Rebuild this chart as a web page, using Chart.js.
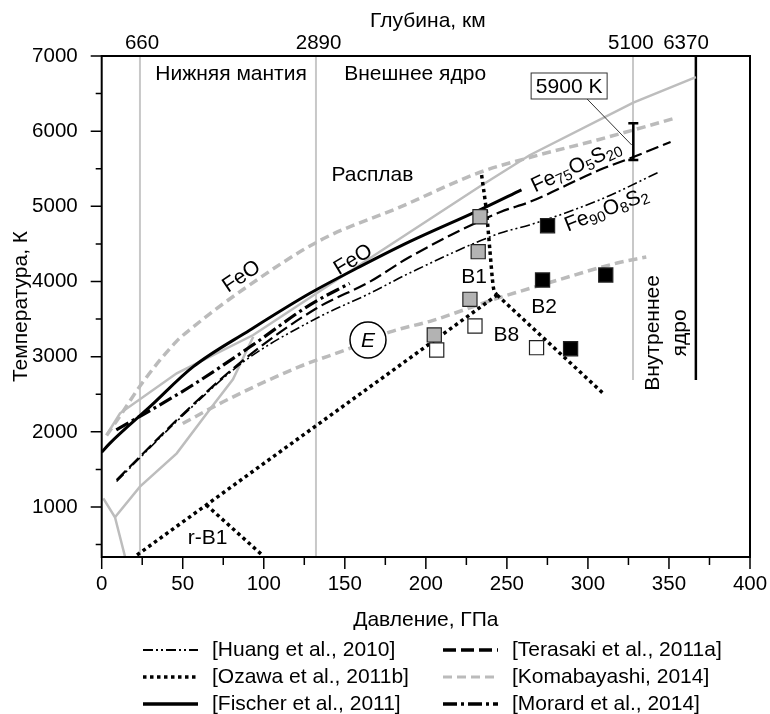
<!DOCTYPE html>
<html>
<head>
<meta charset="utf-8">
<script src="https://cdn.jsdelivr.net/npm/chart.js@4.4.1/dist/chart.umd.min.js"></script>
<style>
  html, body { margin: 0; padding: 0; background: #fff; }
</style>
</head>
<body>
<canvas id="c" width="770" height="714"></canvas>
<script>
// Fe-O-S melting / phase diagram, pressure (GPa) vs temperature (K)

const xTicks = [0, 25, 50, 75, 100, 125, 150, 175, 200, 225, 250, 275, 300, 325, 350, 375, 400];
const yTicks = [500, 1000, 1500, 2000, 2500, 3000, 3500, 4000, 4500, 5000, 5500, 6000, 6500, 7000];
const depthTickP = [24.9, 133.8, 326.5, 360.5];
const depthLabels = ['660', '2890', '5100', '6370'];

// region boundaries (660, 2890, 5100 km — gray; 6370 km — black)
const boundaryP = [23.6, 132.2, 327.8, 366.6];
const boundaryLowT = [335, 335, 2690, 2690];

// [Fischer et al., 2011]
const fischerP = [0, 5, 29.8, 56.5, 91.5, 128.5, 159.3, 190, 233, 259];
const fischerT = [1730, 1847, 2335, 2867, 3355, 3843, 4197, 4530, 4950, 5220];

// [Morard et al., 2014]
const morardP = [9, 54.5, 93.5, 128.5, 153];
const morardT = [2025, 2600, 3160, 3690, 3976];

// [Terasaki et al., 2011a] Fe75O5S20
const terasakiP = [9.2, 25.7, 46.3, 87.4, 132.6, 165.5, 190, 246, 264, 307, 328, 351];
const terasakiT = [1360, 1714, 2158, 2955, 3644, 3998, 4326, 4925, 5058, 5483, 5656, 5856];

// [Huang et al., 2010] Fe90O8S2
const huangP = [9.2, 25.7, 46.3, 87.4, 132.6, 165.5, 190, 246, 264, 307, 344];
const huangT = [1340, 1700, 2140, 2930, 3511, 3843, 4113, 4645, 4752, 5084, 5457];

// [Komabayashi, 2014] FeO melting and eutectic
const komaFeoP = [3, 11, 25, 46, 55, 87, 135, 184, 233, 264, 307, 355];
const komaFeoT = [1950, 2200, 2650, 3200, 3370, 3890, 4550, 4990, 5450, 5650, 5890, 6180];
const komaEutP = [50, 75, 122, 153, 178, 204, 241, 280, 318, 336];
const komaEutT = [2110, 2400, 2867, 3110, 3330, 3480, 3754, 4010, 4246, 4326];

// gray solid curves (Fe phase diagram)
const grayAP = [1, 8.2, 14.4];
const grayAT = [1116, 863, 339];
const grayBP = [8.2, 23.6, 46.3, 66.8, 81, 93.5];
const grayBT = [863, 1271, 1714, 2300, 2700, 3266];
const grayCP = [3, 11.3, 46.3, 93.5, 132.6, 164, 233, 264, 328, 366.6];
const grayCT = [1958, 2247, 2779, 3288, 3843, 4290, 5260, 5680, 6380, 6720];

// [Ozawa et al., 2011b] FeO phase boundaries
const ozB1B8P = [21.8, 244];
const ozB1B8T = [362, 3820];
const ozMeltP = [234.4, 237.5, 239.5, 241.6, 243.7];
const ozMeltT = [5417, 4907, 4419, 3931, 3820];
const ozB8B2P = [244, 309];
const ozB8B2T = [3820, 2520];
const ozRB1P = [64.5, 99.6];
const ozRB1T = [1029, 350];

// experimental points
const graySqP = [233.4, 232.3, 227.2, 205.2];
const graySqT = [4862, 4397, 3763, 3289];
const whiteSqP = [206.7, 230.3, 268.3];
const whiteSqT = [3089, 3408, 3120];
const blackSqP = [272, 311, 289.3, 275.1];
const blackSqT = [4020, 4087, 3106, 4742];

// eutectic point E and 5900 K estimate at ICB
const eutP = [164.3];
const eutT = [3222];
const icbP = [328, 328];
const icbT = [5617, 6105];

const FONT = '"Liberation Sans", Arial, Helvetica, sans-serif';
const FS = 21;
const TICK_FS = 20.5;
const GRAY_LINE = '#bdbdbd';
const GRAY_DASH = '#bbbbbb';

function pts(px, ty) {
    return px.map(function (p, i) { return { x: p, y: ty[i] }; });
}

function lineDs(label, px, ty, color, width, dash, order, extra) {
    return Object.assign({
        label: label,
        data: pts(px, ty),
        showLine: true,
        borderColor: color,
        borderWidth: width,
        borderDash: dash || [],
        borderCapStyle: 'butt',
        pointRadius: 0,
        pointHoverRadius: 0,
        fill: false,
        tension: 0,
        order: order
    }, extra || {});
}

function sqDs(label, px, ty, fill) {
    return {
        label: label,
        data: pts(px, ty),
        showLine: false,
        pointStyle: 'rect',
        pointRadius: 10,
        pointHoverRadius: 10,
        backgroundColor: fill,
        borderColor: '#222',
        borderWidth: 1.2,
        order: 0
    };
}

const DASH = {
    huang: [10, 3, 2, 3, 2, 3],
    terasaki: [13, 5],
    ozawa: [3.5, 3.5],
    koma: [9, 5],
    morard: [14, 4, 3, 4]
};

const datasets = [];
boundaryP.forEach(function (p, i) {
    datasets.push(lineDs('boundary', [p, p], [7000, boundaryLowT[i]],
        i === 3 ? '#000' : '#c8c8c8', i === 3 ? 2.5 : 2, [], 20));
});
datasets.push(lineDs('grayA', grayAP, grayAT, GRAY_LINE, 2.5, [], 15));
datasets.push(lineDs('grayB', grayBP, grayBT, GRAY_LINE, 2.5, [], 15));
datasets.push(lineDs('grayC', grayCP, grayCT, GRAY_LINE, 2.5, [], 15));
datasets.push(lineDs('koma1', komaFeoP, komaFeoT, GRAY_DASH, 3.5, DASH.koma, 14, { cubicInterpolationMode: 'monotone' }));
datasets.push(lineDs('koma2', komaEutP, komaEutT, GRAY_DASH, 3.5, DASH.koma, 14, { cubicInterpolationMode: 'monotone' }));
datasets.push(lineDs('ozawa1', ozB1B8P, ozB1B8T, '#000', 3.5, DASH.ozawa, 8));
datasets.push(lineDs('ozawa2', ozMeltP, ozMeltT, '#000', 3.5, DASH.ozawa, 8, { cubicInterpolationMode: 'monotone' }));
datasets.push(lineDs('ozawa3', ozB8B2P, ozB8B2T, '#000', 3.5, DASH.ozawa, 8));
datasets.push(lineDs('ozawa4', ozRB1P, ozRB1T, '#000', 3.5, DASH.ozawa, 8));
datasets.push(lineDs('huang', huangP, huangT, '#000', 1.6, DASH.huang, 6, { cubicInterpolationMode: 'monotone' }));
datasets.push(lineDs('terasaki', terasakiP, terasakiT, '#000', 2.2, DASH.terasaki, 6, { cubicInterpolationMode: 'monotone' }));
datasets.push(lineDs('morard', morardP, morardT, '#000', 3.2, DASH.morard, 5, { cubicInterpolationMode: 'monotone' }));
datasets.push(lineDs('fischer', fischerP, fischerT, '#000', 3, [], 4, { cubicInterpolationMode: 'monotone' }));
datasets.push(lineDs('icb', icbP, icbT, '#000', 2.5, [], 2, {
    pointStyle: 'line', pointRadius: 5, pointBorderWidth: 2.5, pointBorderColor: '#000'
}));
datasets.push({
    label: 'E', data: pts(eutP, eutT), showLine: false, pointStyle: 'circle',
    pointRadius: 18, pointHoverRadius: 18, backgroundColor: '#fff', borderColor: '#000',
    borderWidth: 1.5, order: 1
});
datasets.push(sqDs('graySq', graySqP, graySqT, '#b3b3b3'));
datasets.push(sqDs('whiteSq', whiteSqP, whiteSqT, '#fff'));
datasets.push(sqDs('blackSq', blackSqP, blackSqT, '#000'));

// text annotations, in data coordinates
const notes = [
    { text: 'Нижняя мантия', p: 79.8, t: 6754 },
    { text: 'Внешнее ядро', p: 193.4, t: 6754 },
    { text: 'Расплав', p: 167, t: 5417 },
    { text: 'B1', p: 229.7, t: 4053 },
    { text: 'B2', p: 272.9, t: 3654 },
    { text: 'B8', p: 249.7, t: 3282 },
    { text: 'r-B1', p: 65.3, t: 581 },
    { text: 'FeO', p: 86.3, t: 4064, rot: -34 },
    { text: 'FeO', p: 155.2, t: 4286, rot: -31 }
];
const formulas = [
    { parts: [['Fe', 0], ['75', 1], ['O', 0], ['5', 1], ['S', 0], ['20', 1]], p: 292.9, t: 5527, rot: -25 },
    { parts: [['Fe', 0], ['90', 1], ['O', 0], ['8', 1], ['S', 0], ['2', 1]], p: 311.5, t: 4951, rot: -21.6 }
];

const legendItems = [
    ['[Huang et al., 2010]', 'huang'],
    ['[Ozawa et al., 2011b]', 'ozawa1'],
    ['[Fischer et al., 2011]', 'fischer'],
    ['[Terasaki et al., 2011a]', 'terasaki'],
    ['[Komabayashi, 2014]', 'koma1'],
    ['[Morard et al., 2014]', 'morard']
];

const decor = {
    id: 'decor',
    afterDatasetsDraw: function (chart) {
        const ctx = chart.ctx;
        const a = chart.chartArea;
        const xs = chart.scales.x;
        const ys = chart.scales.y;
        const X = function (p) { return xs.getPixelForValue(p); };
        const Y = function (t) { return ys.getPixelForValue(t); };

        ctx.save();
        ctx.strokeStyle = '#000';
        ctx.fillStyle = '#000';

        // frame
        ctx.lineWidth = 2;
        ctx.setLineDash([]);
        ctx.strokeRect(a.left, a.top, a.right - a.left, a.bottom - a.top);

        // tick marks
        ctx.lineWidth = 1.5;
        ctx.beginPath();
        xTicks.forEach(function (v) {
            const len = v % 50 === 0 ? 12 : 8;
            ctx.moveTo(X(v), a.bottom);
            ctx.lineTo(X(v), a.bottom + len);
        });
        yTicks.forEach(function (v) {
            const len = v % 1000 === 0 ? 11 : 6;
            ctx.moveTo(a.left - len, Y(v));
            ctx.lineTo(a.left, Y(v));
        });
        ctx.stroke();

        // titles
        ctx.font = FS + 'px ' + FONT;
        ctx.textAlign = 'center';
        ctx.textBaseline = 'middle';
        ctx.fillText('Глубина, км', (a.left + a.right) / 2 + 2, 21);
        ctx.fillText('Давление, ГПа', (a.left + a.right) / 2, 620);
        ctx.save();
        ctx.translate(21, (a.top + a.bottom) / 2);
        ctx.rotate(-Math.PI / 2);
        ctx.fillText('Температура, К', 0, 0);
        ctx.restore();

        // plain labels
        notes.forEach(function (n) {
            ctx.save();
            ctx.translate(X(n.p), Y(n.t));
            if (n.rot) ctx.rotate(n.rot * Math.PI / 180);
            ctx.fillText(n.text, 0, 0);
            ctx.restore();
        });

        // inner core label
        ctx.save();
        ctx.translate(X(348.5), Y(3316));
        ctx.rotate(-Math.PI / 2);
        ctx.fillText('Внутреннее', 0, -13.5);
        ctx.fillText('ядро', 0, 13.5);
        ctx.restore();

        // formulas with subscripts
        formulas.forEach(function (f) {
            let w = 0;
            f.parts.forEach(function (pt) {
                ctx.font = (pt[1] ? '15px ' : FS + 'px ') + FONT;
                w += ctx.measureText(pt[0]).width;
            });
            ctx.save();
            ctx.translate(X(f.p), Y(f.t));
            ctx.rotate(f.rot * Math.PI / 180);
            ctx.textAlign = 'left';
            let x = -w / 2;
            f.parts.forEach(function (pt) {
                ctx.font = (pt[1] ? '15px ' : FS + 'px ') + FONT;
                ctx.fillText(pt[0], x, pt[1] ? 5 : 0);
                x += ctx.measureText(pt[0]).width;
            });
            ctx.restore();
        });

        // E inside circle
        ctx.font = 'italic ' + FS + 'px ' + FONT;
        ctx.textAlign = 'center';
        ctx.fillText('E', X(eutP[0]), Y(eutT[0]) + 1);

        // 5900 K box and leader
        const bx = X(288.4), by = Y(6601);
        const bw = 76, bh = 26;
        ctx.lineWidth = 1;
        ctx.strokeStyle = '#333';
        ctx.beginPath();
        ctx.moveTo(bx + bw / 2 - 20, by + bh / 2);
        ctx.lineTo(X(327), Y(5816));
        ctx.stroke();
        ctx.fillStyle = '#fff';
        ctx.fillRect(bx - bw / 2, by - bh / 2, bw, bh);
        ctx.strokeRect(bx - bw / 2, by - bh / 2, bw, bh);
        ctx.fillStyle = '#000';
        ctx.font = FS + 'px ' + FONT;
        ctx.fillText('5900 K', bx, by + 1);

        // legend
        ctx.font = FS + 'px ' + FONT;
        ctx.textAlign = 'left';
        legendItems.forEach(function (it, i) {
            const col = Math.floor(i / 3);
            const row = i % 3;
            const x0 = col === 0 ? 143 : 443;
            const y0 = 650 + row * 27;
            const ds = chart.data.datasets.find(function (d) { return d.label === it[1]; });
            ctx.save();
            ctx.strokeStyle = ds.borderColor;
            ctx.lineWidth = it[1] === 'huang' ? 2 : (it[1] === 'koma1' ? 3 : 3.5);
            ctx.setLineDash(ds.borderDash);
            ctx.beginPath();
            ctx.moveTo(x0, y0);
            ctx.lineTo(x0 + 55, y0);
            ctx.stroke();
            ctx.restore();
            ctx.fillText(it[0], x0 + 69, y0);
        });

        ctx.restore();
    }
};

function noPadX(s, h) {
    s.height = h;
    s.paddingLeft = 0;
    s.paddingRight = 0;
}

new Chart(document.getElementById('c'), {
    type: 'scatter',
    data: { datasets: datasets },
    plugins: [decor],
    options: {
        responsive: false,
        animation: false,
        layout: { padding: { left: 0, right: 20, top: 0, bottom: 0 } },
        plugins: { legend: { display: false }, tooltip: { enabled: false } },
        scales: {
            x: {
                type: 'linear', position: 'bottom', min: 0, max: 400,
                afterBuildTicks: function (s) { s.ticks = xTicks.map(function (v) { return { value: v }; }); },
                afterFit: function (s) { noPadX(s, 157); },
                grid: { display: false }, border: { display: false },
                ticks: {
                    autoSkip: false, maxRotation: 0, padding: 7, color: '#000',
                    font: { family: FONT, size: TICK_FS },
                    callback: function (v) { return v % 50 === 0 ? String(v) : ''; }
                }
            },
            xTop: {
                type: 'linear', position: 'top', min: 0, max: 400,
                afterBuildTicks: function (s) { s.ticks = depthTickP.map(function (v) { return { value: v }; }); },
                afterFit: function (s) { noPadX(s, 56); },
                grid: { display: false }, border: { display: false },
                ticks: {
                    autoSkip: false, maxRotation: 0, padding: -8, color: '#000',
                    font: { family: FONT, size: TICK_FS },
                    callback: function (v, i) { return depthLabels[i]; }
                }
            },
            y: {
                type: 'linear', position: 'left', min: 335, max: 7000,
                afterBuildTicks: function (s) { s.ticks = yTicks.map(function (v) { return { value: v }; }); },
                afterFit: function (s) { s.width = 101.7; s.paddingTop = 0; s.paddingBottom = 0; },
                grid: { display: false }, border: { display: false },
                ticks: {
                    autoSkip: false, padding: 16, color: '#000',
                    font: { family: FONT, size: TICK_FS },
                    callback: function (v) { return v % 1000 === 0 ? String(v) : ''; }
                }
            }
        }
    }
});
</script>
</body>
</html>
